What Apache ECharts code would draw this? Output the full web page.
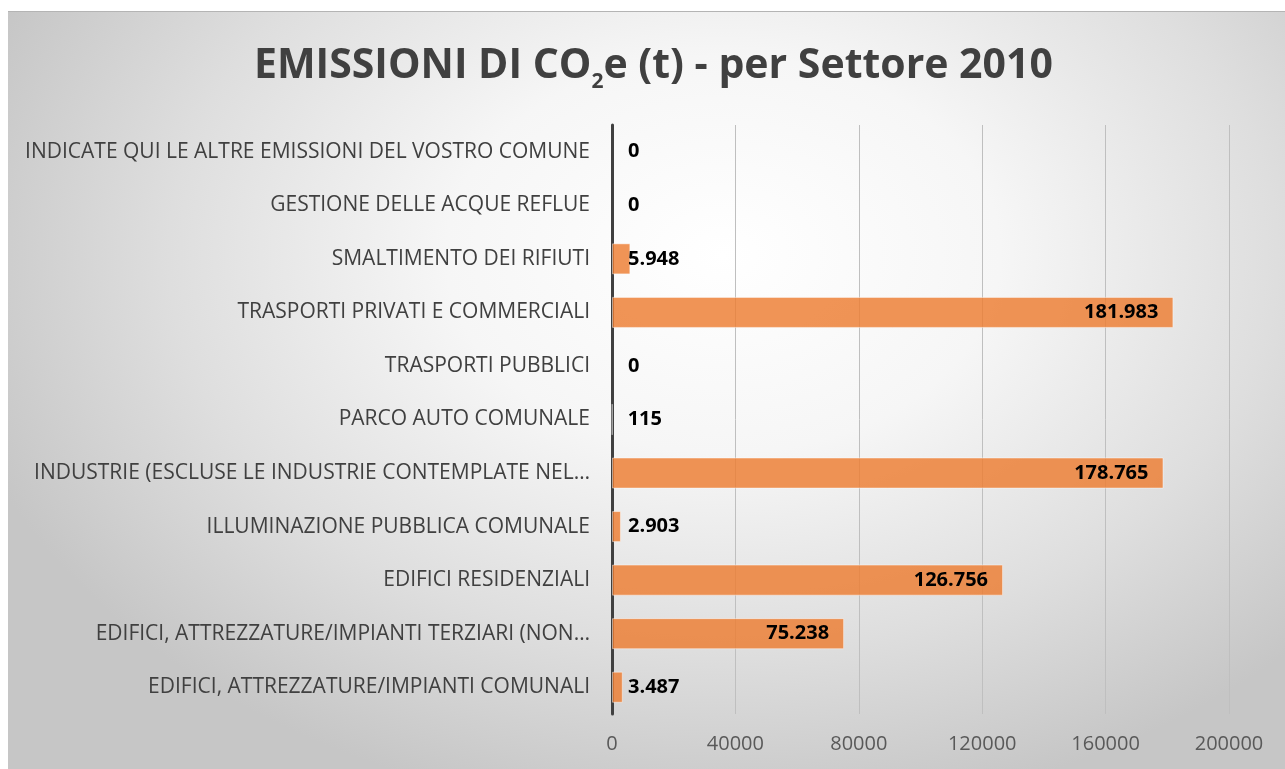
<!DOCTYPE html>
<html>
<head>
<meta charset="utf-8">
<script src="https://cdn.jsdelivr.net/npm/echarts@6/dist/echarts.min.js"></script>
<style>
  html, body { margin: 0; padding: 0; background: #ffffff; }
  #panel {
    position: absolute; left: 8px; top: 11px; width: 1277px; height: 758px;
    border-top: 1px solid #b4b4b4; box-sizing: border-box;
    background: radial-gradient(ellipse 62% 75% at 56% 32%, #ffffff 0%, #f6f6f6 35%, #dedede 70%, #c6c6c6 100%);
  }
  #chart { position: absolute; left: 0; top: 0; width: 1285px; height: 769px; }
</style>
</head>
<body>
<div id="panel"></div>
<div id="chart"></div>
<script>
// Sectors listed bottom-to-top as they appear on the category axis
const sectors = [
  'EDIFICI, ATTREZZATURE/IMPIANTI COMUNALI',
  'EDIFICI, ATTREZZATURE/IMPIANTI TERZIARI (NON…',
  'EDIFICI RESIDENZIALI',
  'ILLUMINAZIONE PUBBLICA COMUNALE',
  'INDUSTRIE (ESCLUSE LE INDUSTRIE CONTEMPLATE NEL…',
  'PARCO AUTO COMUNALE',
  'TRASPORTI PUBBLICI',
  'TRASPORTI PRIVATI E COMMERCIALI',
  'SMALTIMENTO DEI RIFIUTI',
  'GESTIONE DELLE ACQUE REFLUE',
  'INDICATE QUI LE ALTRE EMISSIONI DEL VOSTRO COMUNE'
];
// Emissions in tonnes of CO2 equivalent, 2010
const emissions = [3487, 75238, 126756, 2903, 178765, 115, 0, 181983, 5948, 0, 0];
const xTicks = [0, 40000, 80000, 120000, 160000, 200000];

// Italian thousands separator for the bar labels
const fmt = v => String(v).replace(/\B(?=(\d{3})+(?!\d))/g, '.');

const chart = echarts.init(document.getElementById('chart'), null, { renderer: 'canvas' });

const barData = emissions.map(v => {
  const big = v > 20000;
  return {
    value: v,
    itemStyle: v === 0 ? { borderWidth: 0 } : undefined,
    label: {
      position: big ? 'insideRight' : 'insideLeft',
      distance: big ? 15 : 16
    }
  };
});

chart.setOption({
  backgroundColor: 'transparent',
  animation: false,
  title: {
    text: '{m|EMISSIONI DI CO}{s|2}{m|e (t) - per Settore 2010}',
    left: 254,
    top: 46,
    padding: 0,
    textStyle: {
      rich: {
        m: { fontFamily: 'Open Sans', fontWeight: 'bold', fontSize: 41, color: '#404040', verticalAlign: 'top', lineHeight: 47 },
        s: { fontFamily: 'Open Sans', fontWeight: 'bold', fontSize: 21, color: '#404040', verticalAlign: 'bottom', lineHeight: 21 }
      }
    }
  },
  grid: { left: 612, right: 56, top: 125, bottom: 55, containLabel: false },
  xAxis: {
    type: 'value',
    min: xTicks[0],
    max: xTicks[xTicks.length - 1],
    interval: xTicks[1] - xTicks[0],
    axisLine: { show: false },
    axisTick: { show: false },
    axisLabel: { fontFamily: 'Open Sans', fontSize: 20, color: '#595959', margin: 20, formatter: v => String(v) },
    splitLine: { show: true, lineStyle: { color: '#bfbfbf', width: 1 } }
  },
  yAxis: {
    type: 'category',
    data: sectors,
    axisLine: { show: true, lineStyle: { color: '#404040', width: 3 } },
    axisTick: { show: false },
    axisLabel: { fontFamily: 'Open Sans', fontSize: 21, color: '#404040', margin: 22 },
    splitLine: { show: false }
  },
  series: [{
    type: 'bar',
    data: barData,
    barWidth: '58%',
    itemStyle: {
      color: 'rgba(237,125,49,0.82)',
      borderColor: 'rgba(255,255,255,0.45)',
      borderWidth: 1
    },
    label: {
      show: true,
      formatter: p => fmt(p.value),
      fontFamily: 'Open Sans',
      fontWeight: 'bold',
      fontSize: 20,
      color: '#000000'
    }
  }]
});
</script>
</body>
</html>
